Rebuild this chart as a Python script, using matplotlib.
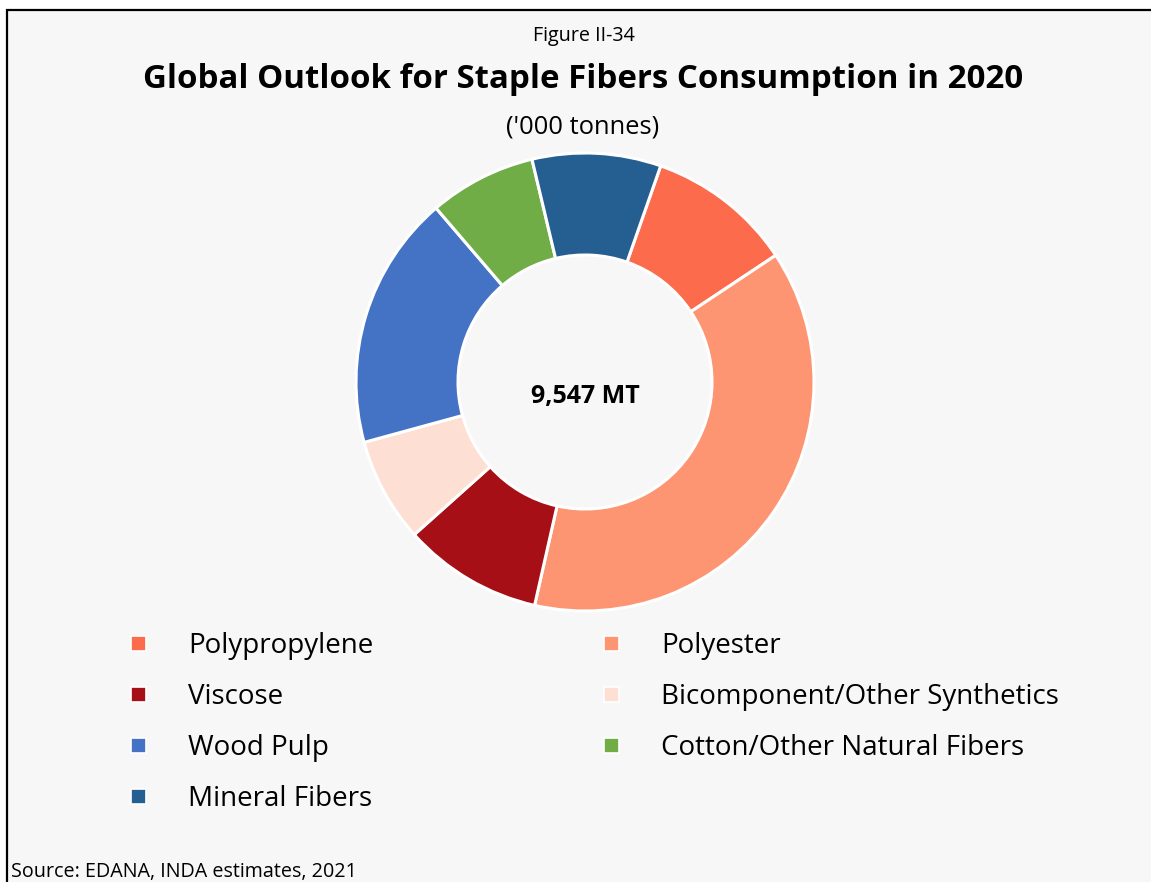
import matplotlib
matplotlib.use("Agg")
import matplotlib.pyplot as plt
from matplotlib.patches import Rectangle

plt.rcParams['font.family'] = ['Open Sans', 'DejaVu Sans']

categories = ["Polypropylene", "Polyester", "Viscose", "Bicomponent/Other Synthetics",
              "Wood Pulp", "Cotton/Other Natural Fibers", "Mineral Fibers"]
values = [984, 3615, 941, 703, 1716, 721, 867]
colors = ["#FC6B4C", "#FD9573", "#A50F15", "#FDDFD3", "#4472C4", "#70AD47", "#255E91"]
total_label = "9,547 MT"

W, H = 1151, 882
fig = plt.figure(figsize=(W / 100, H / 100), dpi=100)
fig.patch.set_facecolor("white")

# panel background with a dark frame on the left and top
fig.patches.append(Rectangle((7 / W, -0.01), 1.02, (H - 10) / H + 0.01, transform=fig.transFigure,
                             facecolor="#F7F7F7", edgecolor="black", linewidth=1.6, zorder=-5))

fig.text(584 / W, 1 - 36 / H, "Figure II-34", ha="center", va="center", fontsize=14.2)
fig.text(583 / W, 1 - 79 / H, "Global Outlook for Staple Fibers Consumption in 2020",
         ha="center", va="center", fontsize=23.8, fontweight="bold")
fig.text(583 / W, 1 - 127 / H, "('000 tonnes)", ha="center", va="center", fontsize=18.4)

cx, cy, r = 585, 382, 229
ax = fig.add_axes([(cx - r) / W, (H - cy - r) / H, 2 * r / W, 2 * r / H], zorder=2)
ax.set_facecolor("none")
ax.pie(values, colors=colors, startangle=90 - 19.3, counterclock=False, radius=1,
       wedgeprops=dict(width=1 - 127 / 229, edgecolor="white", linewidth=2.2))
ax.set_xlim(-1.0, 1.0)
ax.set_ylim(-1.0, 1.0)
ax.set_aspect("equal")
ax.axis("off")
ax.text(0, -0.065, total_label, ha="center", va="center", fontsize=18, fontweight="bold")

# legend laid out in two columns, row-major
col_x = [138, 611]
text_dx = 50
row_y0, row_dy = 643, 51
for i, (lab, col) in enumerate(zip(categories, colors)):
    row, c = divmod(i, 2)
    x = col_x[c]
    y = row_y0 + row * row_dy
    fig.patches.append(Rectangle(((x - 7.5) / W, 1 - (y + 7.5) / H), 15 / W, 15 / H,
                                 transform=fig.transFigure, facecolor=col,
                                 edgecolor="white", linewidth=1.2, zorder=3))
    fig.text((x + text_dx) / W, 1 - (y + 3) / H, lab, ha="left", va="center", fontsize=20)

fig.text(11 / W, 1 - 872 / H, "Source: EDANA, INDA estimates, 2021", ha="left", va="center",
         fontsize=14.2)

fig.savefig("out.png", dpi=100, facecolor=fig.get_facecolor())
